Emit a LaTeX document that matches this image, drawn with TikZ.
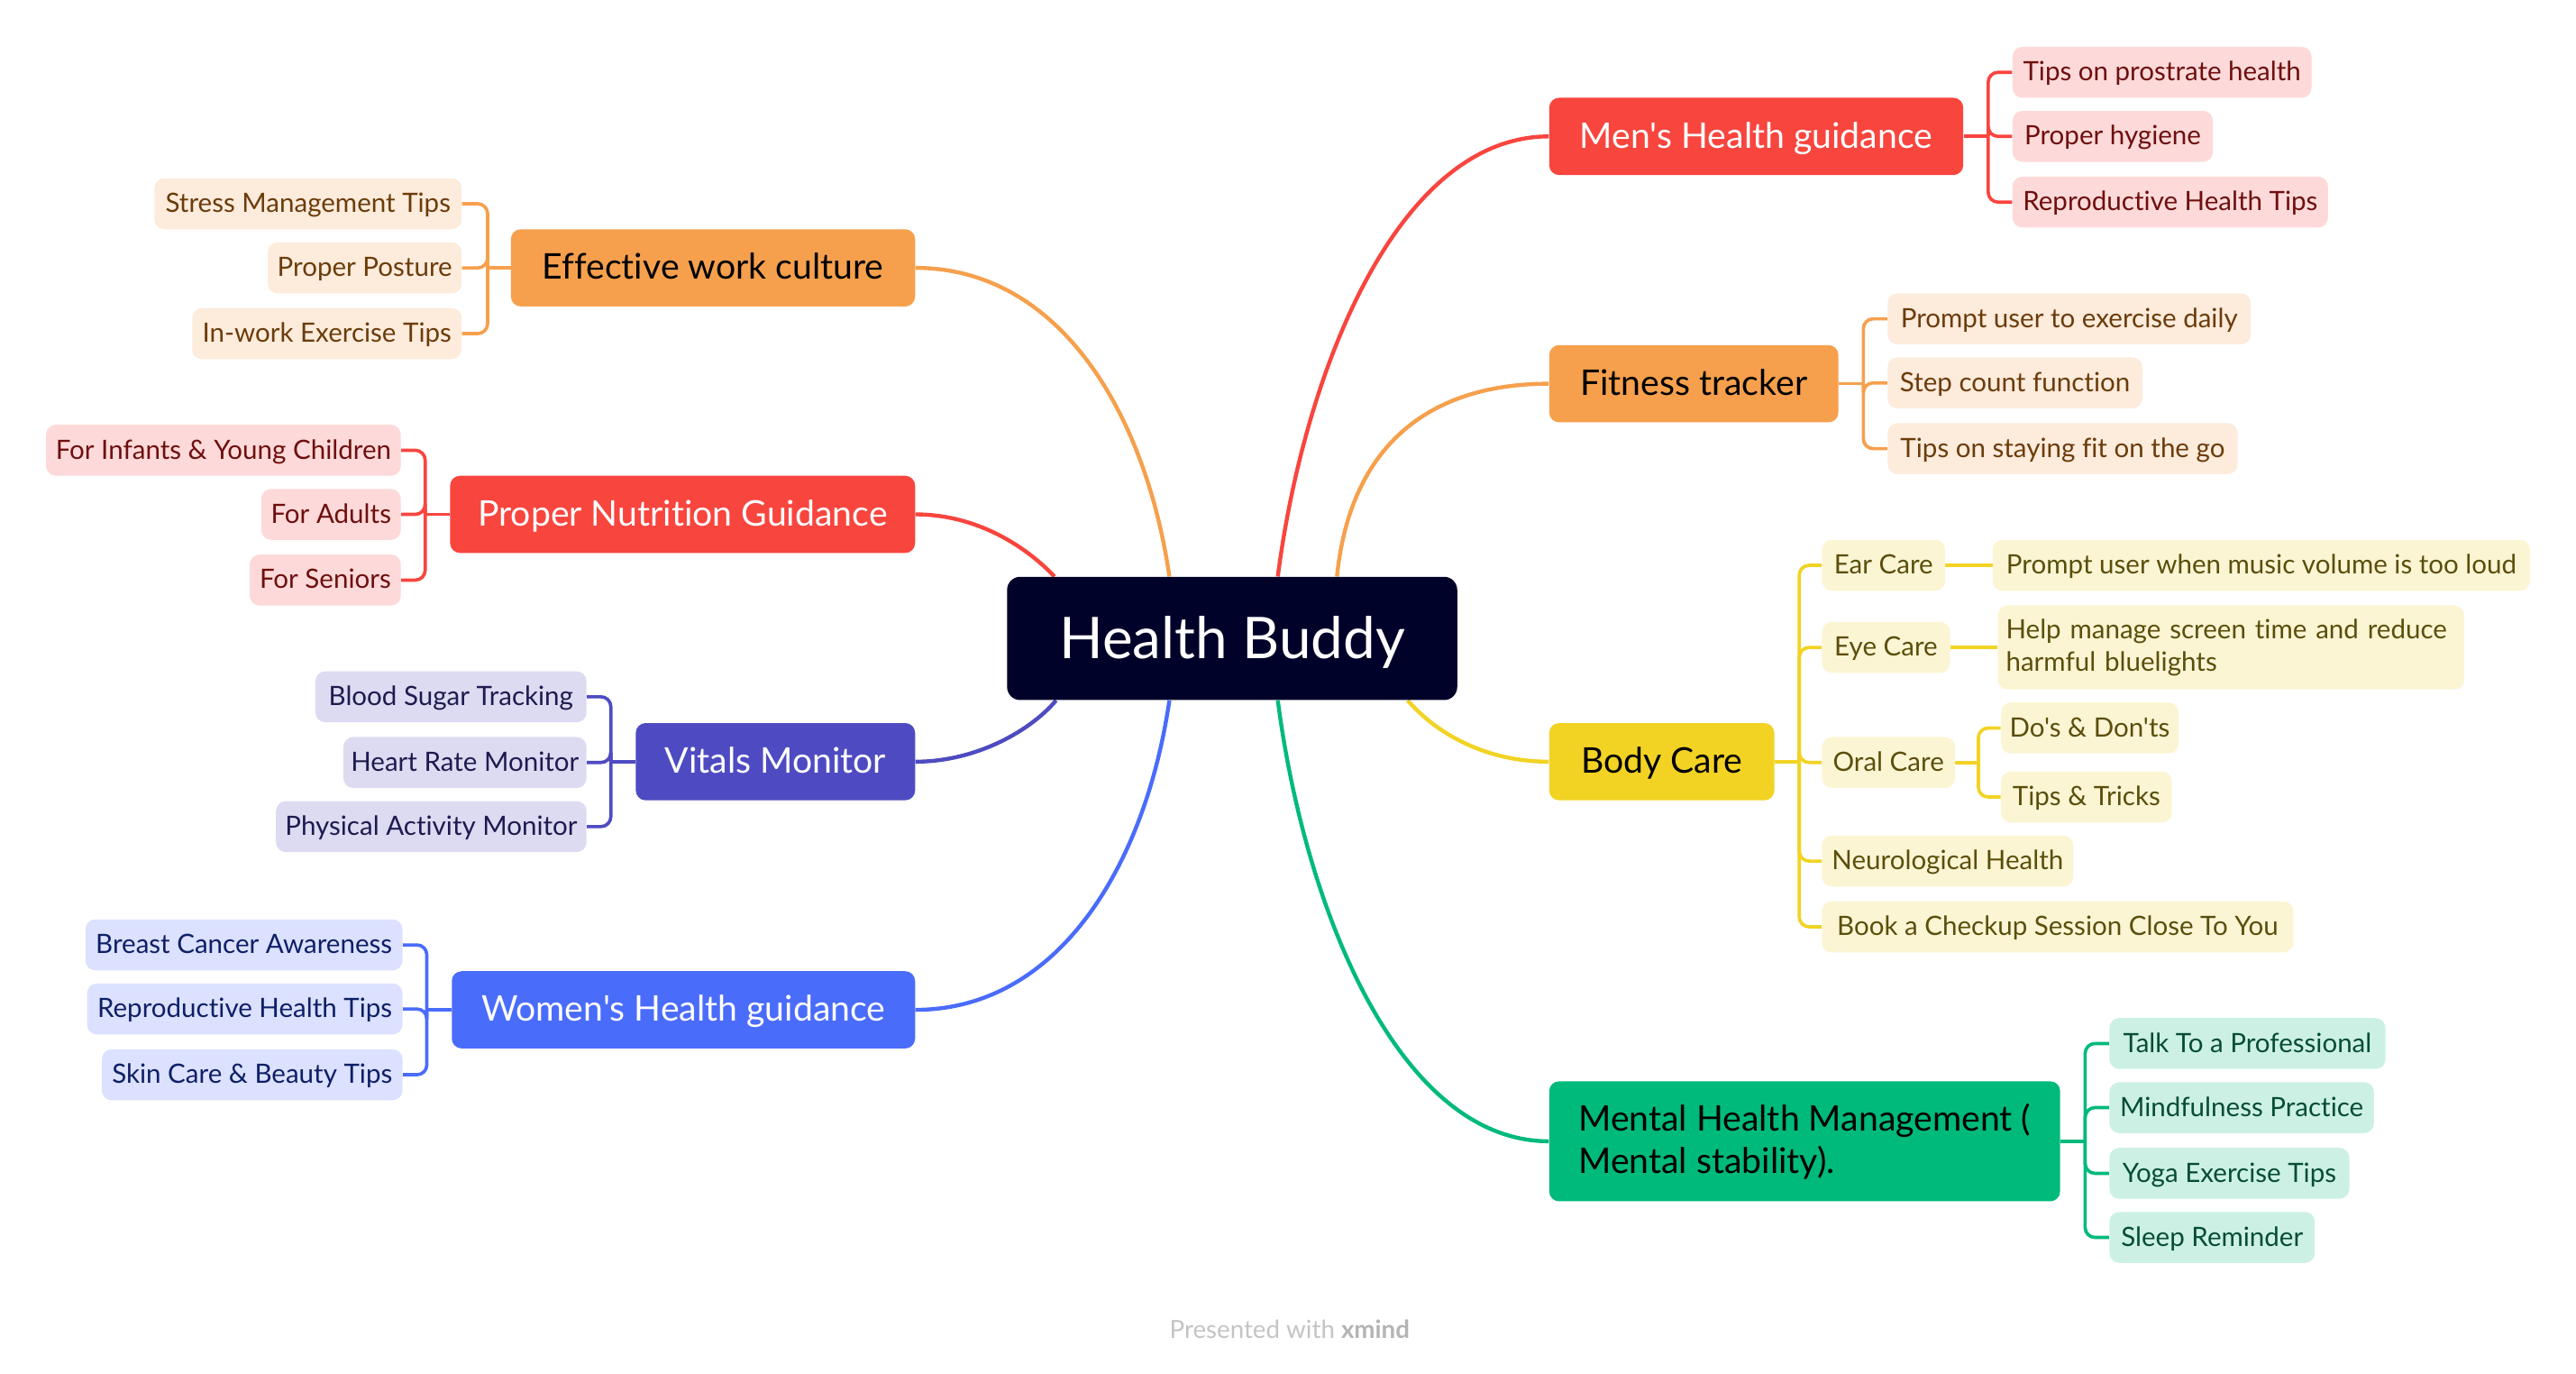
\documentclass[tikz,border=0pt]{standalone}
\usepackage{fontspec}
\setmainfont{Lato}[Ligatures={TeXOff,NoCommon}]
\usetikzlibrary{calc}
\definecolor{cRoot}{HTML}{000229}
\definecolor{cRed}{HTML}{F8453E}
\definecolor{cOrange}{HTML}{F6A04D}
\definecolor{cIndigo}{HTML}{4E4BC2}
\definecolor{cBlue}{HTML}{4A6CFB}
\definecolor{cYellow}{HTML}{F2D323}
\definecolor{cGreen}{HTML}{00BA7B}
\definecolor{lRed}{HTML}{FDDAD9}
\definecolor{lOrange}{HTML}{FDEBDC}
\definecolor{lIndigo}{HTML}{DCDBF2}
\definecolor{lBlue}{HTML}{DBE1FE}
\definecolor{lYellow}{HTML}{FCF5D4}
\definecolor{lGreen}{HTML}{CCF1E4}
\definecolor{tRed}{HTML}{6E0F0F}
\definecolor{tOrange}{HTML}{6B3C0A}
\definecolor{tIndigo}{HTML}{1E1B4F}
\definecolor{tBlue}{HTML}{0E1F66}
\definecolor{tYellow}{HTML}{5B4E0B}
\definecolor{tGreen}{HTML}{064D34}
\definecolor{cMark}{HTML}{C4C4C4}
\definecolor{cMarkB}{HTML}{B4B4B4}
\pgfdeclarelayer{bg}
\pgfsetlayers{bg,main}
\tikzset{
  rootbox/.style={fill=cRoot, text=white, rounded corners=8, minimum width=274, minimum height=75, inner sep=0, text height=25, text depth=1, font=\fontsize{35}{40}\selectfont},
  topicbase/.style={rounded corners=6, minimum height=47, inner sep=0, font=\fontsize{21.5}{26}\selectfont},
  topic/.style={topicbase, text height=15, text depth=1},
  subbase/.style={rounded corners=6, minimum height=31, inner sep=0, font=\fontsize{16.2}{20}\selectfont},
  subbox/.style={subbase, text height=11.5, text depth=1},
  mainline/.style={line width=2.4pt},
  subline/.style={line width=2pt},
  elbow/.style={subline, rounded corners=6},
}
\begin{document}
\begin{tikzpicture}[x=1pt,y=-1pt]
\useasboundingbox (0,0) rectangle (1568,836);
\begin{pgfonlayer}{bg}
\fill[white] (0,0) rectangle (1568,836);
\end{pgfonlayer}

% root
\node[rootbox] (hb) at (750,388.5) {Health Buddy};

% main topics
\node[topic, fill=cOrange, text=black, minimum width=246] (work) at (434,163) {Effective work culture};
\node[topic, fill=cRed, text=white, minimum width=283] (nutr) at (415.5,313) {Proper Nutrition Guidance};
\node[topic, fill=cIndigo, text=white, minimum width=170] (vital) at (472,463.5) {Vitals Monitor};
\node[topic, fill=cBlue, text=white, minimum width=282] (women) at (416,614.5) {Women's Health guidance};
\node[topic, fill=cRed, text=white, minimum width=252] (men) at (1069,83) {Men's Health guidance};
\node[topic, fill=cOrange, text=black, minimum width=176] (fit) at (1031,233.5) {Fitness tracker};
\node[topic, fill=cYellow, text=black, minimum width=137] (body) at (1011.5,463.5) {Body Care};
\node[topicbase, fill=cGreen, text=black, minimum width=311, minimum height=73, align=left] (mental) at (1098.5,694.5) {Mental Health Management (\\Mental stability).};

% work subs
\node[subbox, fill=lOrange, text=tOrange, minimum width=187] (w1) at (187.5,124) {Stress Management Tips};
\node[subbox, fill=lOrange, text=tOrange, minimum width=118] (w2) at (222,163) {Proper Posture};
\node[subbox, fill=lOrange, text=tOrange, minimum width=164] (w3) at (199,203) {In-work Exercise Tips};
% nutrition subs
\node[subbox, fill=lRed, text=tRed, minimum width=216] (n1) at (136,274) {For Infants \& Young Children};
\node[subbox, fill=lRed, text=tRed, minimum width=85] (n2) at (201.5,313) {For Adults};
\node[subbox, fill=lRed, text=tRed, minimum width=92] (n3) at (198,353) {For Seniors};
% vitals subs
\node[subbox, fill=lIndigo, text=tIndigo, minimum width=165] (v1) at (274.5,424) {Blood Sugar Tracking};
\node[subbox, fill=lIndigo, text=tIndigo, minimum width=148] (v2) at (283,464) {Heart Rate Monitor};
\node[subbox, fill=lIndigo, text=tIndigo, minimum width=189] (v3) at (262.5,503) {Physical Activity Monitor};
% women subs
\node[subbox, fill=lBlue, text=tBlue, minimum width=193] (f1) at (148.5,575) {Breast Cancer Awareness};
\node[subbox, fill=lBlue, text=tBlue, minimum width=192] (f2) at (149,614) {Reproductive Health Tips};
\node[subbox, fill=lBlue, text=tBlue, minimum width=183] (f3) at (153.5,654) {Skin Care \& Beauty Tips};
% men subs
\node[subbox, fill=lRed, text=tRed, minimum width=182] (m1) at (1316,44) {Tips on prostrate health};
\node[subbox, fill=lRed, text=tRed, minimum width=122] (m2) at (1286,83) {Proper hygiene};
\node[subbox, fill=lRed, text=tRed, minimum width=192] (m3) at (1321,123) {Reproductive Health Tips};
% fitness subs
\node[subbox, fill=lOrange, text=tOrange, minimum width=221] (t1) at (1259.5,194) {Prompt user to exercise daily};
\node[subbox, fill=lOrange, text=tOrange, minimum width=155] (t2) at (1226.5,233) {Step count function};
\node[subbox, fill=lOrange, text=tOrange, minimum width=213] (t3) at (1255.5,273) {Tips on staying fit on the go};
% body subs
\node[subbox, fill=lYellow, text=tYellow, minimum width=75] (b1) at (1146.5,344) {Ear Care};
\node[subbox, fill=lYellow, text=tYellow, minimum width=78] (b2) at (1148,394) {Eye Care};
\node[subbox, fill=lYellow, text=tYellow, minimum width=81] (b3) at (1149.5,464) {Oral Care};
\node[subbox, fill=lYellow, text=tYellow, minimum width=153] (b4) at (1185.5,524) {Neurological Health};
\node[subbox, fill=lYellow, text=tYellow, minimum width=287] (b5) at (1252.5,564) {Book a Checkup Session Close To You};
\node[subbox, fill=lYellow, text=tYellow, minimum width=327] (b1x) at (1376.5,344) {Prompt user when music volume is too loud};
\node[subbase, fill=lYellow, text=tYellow, minimum width=284, minimum height=51, text width=274, align=left] (b2x) at (1358,394) {Help manage screen time and reduce\\harmful bluelights};
\node[subbox, fill=lYellow, text=tYellow, minimum width=108] (o1) at (1272,443) {Do's \& Don'ts};
\node[subbox, fill=lYellow, text=tYellow, minimum width=104] (o2) at (1270,485) {Tips \& Tricks};
% mental subs
\node[subbox, fill=lGreen, text=tGreen, minimum width=168] (g1) at (1368,635) {Talk To a Professional};
\node[subbox, fill=lGreen, text=tGreen, minimum width=161] (g2) at (1364.5,674) {Mindfulness Practice};
\node[subbox, fill=lGreen, text=tGreen, minimum width=146] (g3) at (1357,714) {Yoga Exercise Tips};
\node[subbox, fill=lGreen, text=tGreen, minimum width=125] (g4) at (1346.5,753) {Sleep Reminder};

% watermark
\node[text=cMark, font=\fontsize{15.2}{18}\selectfont, inner sep=0] (mark) at (785,809) {Presented with \textcolor{cMarkB}{\textbf{xmind}}};

\begin{pgfonlayer}{bg}
% start points on the root
\coordinate (sWork) at ($(hb.north west)+(99,0)$);
\coordinate (sNutr) at ($(hb.north west)+(29,0)$);
\coordinate (sVital) at ($(hb.south west)+(30,0)$);
\coordinate (sWomen) at ($(hb.south west)+(99,0)$);
\coordinate (sMen) at ($(hb.north west)+(165,0)$);
\coordinate (sFit) at ($(hb.north west)+(201,0)$);
\coordinate (sBody) at ($(hb.south west)+(244,0)$);
\coordinate (sMental) at ($(hb.south west)+(165,0)$);
\draw[mainline, cOrange] (sWork) .. controls (697,250) and (644,163) .. (work.east);
\draw[mainline, cRed] (sNutr) .. controls (625,333) and (595,313) .. (nutr.east);
\draw[mainline, cIndigo] (sVital) .. controls (628,444) and (595,463.5) .. (vital.east);
\draw[mainline, cBlue] (sWomen) .. controls (697,527) and (644,614.5) .. (women.east);
\draw[mainline, cRed] (sMen) .. controls (794,225) and (851,83) .. (men.west);
\draw[mainline, cOrange] (sFit) .. controls (822,270) and (871,233.5) .. (fit.west);
\draw[mainline, cYellow] (sBody) .. controls (875,447) and (905,463.5) .. (body.west);
\draw[mainline, cGreen] (sMental) .. controls (794,552) and (851,694.5) .. (mental.west);

% junctions
\coordinate (jWork) at ($(work.west)+(-14,0)$);
\coordinate (jNutr) at ($(nutr.west)+(-15,0)$);
\coordinate (jVital) at ($(vital.west)+(-15,0)$);
\coordinate (jWomen) at ($(women.west)+(-15,0)$);
\coordinate (jMen) at ($(men.east)+(15,0)$);
\coordinate (jFit) at ($(fit.east)+(15,0)$);
\coordinate (jBody) at ($(body.east)+(15,0)$);
\coordinate (jOral) at ($(b3.east)+(14,0)$);
\coordinate (jMental) at ($(mental.east)+(15,0)$);

\draw[subline, cOrange] (work.west) -- (jWork);
\foreach \c in {w1,w2,w3} \draw[elbow, cOrange] (jWork) |- (\c.east);
\draw[subline, cRed] (nutr.west) -- (jNutr);
\foreach \c in {n1,n2,n3} \draw[elbow, cRed] (jNutr) |- (\c.east);
\draw[subline, cIndigo] (vital.west) -- (jVital);
\foreach \c in {v1,v2,v3} \draw[elbow, cIndigo] (jVital) |- (\c.east);
\draw[subline, cBlue] (women.west) -- (jWomen);
\foreach \c in {f1,f2,f3} \draw[elbow, cBlue] (jWomen) |- (\c.east);
\draw[subline, cRed] (men.east) -- (jMen);
\foreach \c in {m1,m2,m3} \draw[elbow, cRed] (jMen) |- (\c.west);
\draw[subline, cOrange] (fit.east) -- (jFit);
\foreach \c in {t1,t2,t3} \draw[elbow, cOrange] (jFit) |- (\c.west);
\draw[subline, cYellow] (body.east) -- (jBody);
\foreach \c in {b1,b2,b3,b4,b5} \draw[elbow, cYellow] (jBody) |- (\c.west);
\draw[subline, cYellow] (b1.east) -- (b1x.west);
\draw[subline, cYellow] (b2.east) -- (b2x.west);
\draw[subline, cYellow] (b3.east) -- (jOral);
\foreach \c in {o1,o2} \draw[elbow, cYellow] (jOral) |- (\c.west);
\draw[subline, cGreen] (mental.east) -- (jMental);
\foreach \c in {g1,g2,g3,g4} \draw[elbow, cGreen] (jMental) |- (\c.west);
\end{pgfonlayer}
\end{tikzpicture}
\end{document}
